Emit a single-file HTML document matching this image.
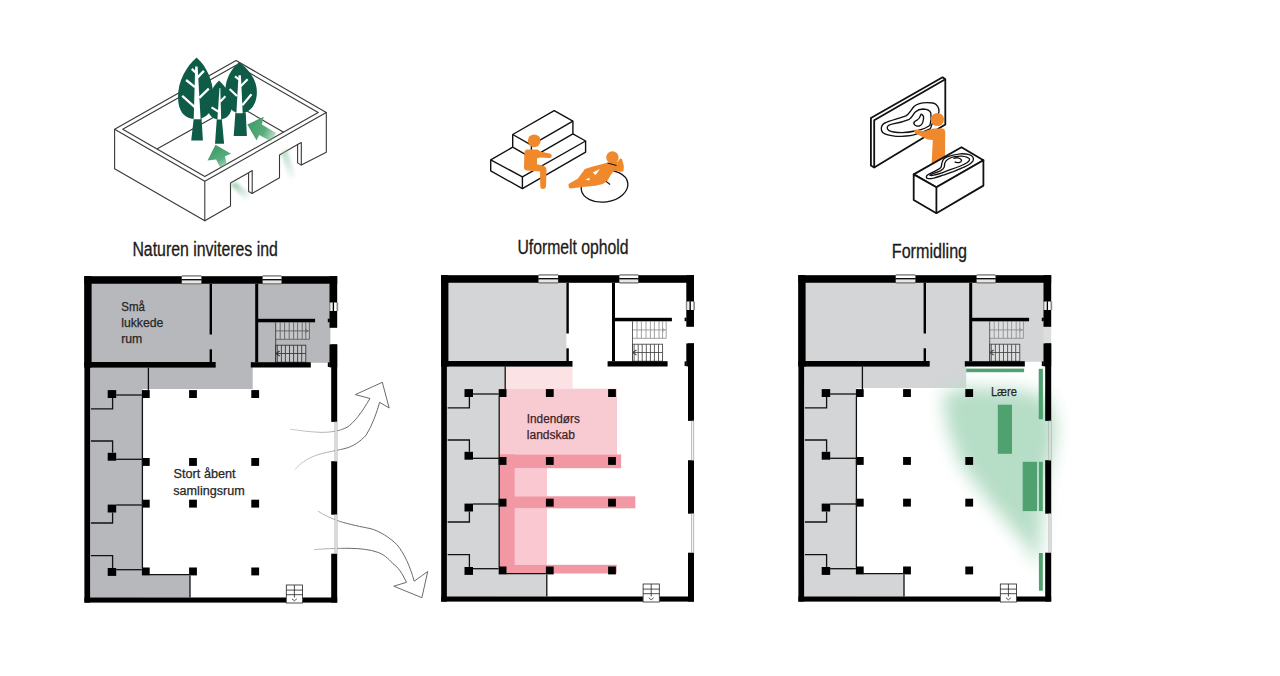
<!DOCTYPE html>
<html><head><meta charset="utf-8"><style>
html,body{margin:0;padding:0;background:#fff;}
body{width:1280px;height:676px;overflow:hidden;}
svg{display:block;font-family:"Liberation Sans",sans-serif;}
</style></head><body>
<svg width="1280" height="676" viewBox="0 0 1280 676">
<defs>
<filter id="blur" x="-50%" y="-50%" width="200%" height="200%"><feGaussianBlur stdDeviation="8.5"/></filter>
<filter id="blur2" x="-50%" y="-50%" width="200%" height="200%"><feGaussianBlur stdDeviation="1.6"/></filter>
<linearGradient id="ag1" gradientUnits="userSpaceOnUse" x1="290" y1="0" x2="345" y2="0"><stop offset="0" stop-color="#c8c8c8"/><stop offset="0.8" stop-color="#a0a0a0"/><stop offset="1" stop-color="#5a5a5a"/></linearGradient>
<linearGradient id="gt1" gradientUnits="userSpaceOnUse" x1="232" y1="183" x2="250" y2="199"><stop offset="0" stop-color="#8cc7a4" stop-opacity="0.85"/><stop offset="1" stop-color="#8cc7a4" stop-opacity="0"/></linearGradient>
<linearGradient id="gt2" gradientUnits="userSpaceOnUse" x1="284" y1="150" x2="293" y2="181"><stop offset="0" stop-color="#8cc7a4" stop-opacity="0.6"/><stop offset="1" stop-color="#8cc7a4" stop-opacity="0"/></linearGradient>
<linearGradient id="ga" gradientUnits="userSpaceOnUse" x1="216" y1="150" x2="226" y2="168"><stop offset="0" stop-color="#45a06c"/><stop offset="0.5" stop-color="#5aad7e"/><stop offset="1" stop-color="#5aad7e" stop-opacity="0.4"/></linearGradient>
<linearGradient id="gb" gradientUnits="userSpaceOnUse" x1="252" y1="126" x2="276" y2="138"><stop offset="0" stop-color="#45a06c"/><stop offset="0.5" stop-color="#5aad7e"/><stop offset="1" stop-color="#5aad7e" stop-opacity="0.3"/></linearGradient>
<g id="pb">
<rect x="0.0" y="0.0" width="7.2" height="91.3" fill="#000" />
<rect x="0.0" y="0.0" width="5.7" height="326.4" fill="#000" />
<rect x="0.0" y="0.0" width="252.8" height="7.6" fill="#000" />
<rect x="245.1" y="0.0" width="7.7" height="51.6" fill="#000" />
<rect x="243.4" y="42.5" width="2.0" height="3.5" fill="#000" />
<rect x="245.1" y="68.2" width="7.7" height="23.0" fill="#000" />
<rect x="243.4" y="86.2" width="2.0" height="4.6" fill="#000" />
<rect x="246.8" y="68.2" width="6.0" height="77.5" fill="#000" />
<rect x="246.8" y="185.0" width="6.0" height="53.5" fill="#000" />
<rect x="246.8" y="277.5" width="6.0" height="48.9" fill="#000" />
<rect x="0.0" y="321.3" width="201.7" height="5.1" fill="#000" />
<rect x="218.3" y="321.3" width="34.5" height="5.1" fill="#000" />
<rect x="250.6" y="145.7" width="2" height="39.3" fill="#fff" stroke="#7a7a7a" stroke-width="0.55"/>
<rect x="250.6" y="238.5" width="2" height="39.0" fill="#fff" stroke="#7a7a7a" stroke-width="0.55"/>
<rect x="97.4" y="-1.1" width="19.5" height="9.6" fill="#8c8c8c" />
<rect x="97.4" y="0.5" width="19.5" height="2.4" fill="#fff" />
<rect x="97.4" y="2.9" width="19.5" height="1.4" fill="#000" />
<rect x="97.4" y="4.3" width="19.5" height="2.5" fill="#e6e6e6" />
<rect x="178.3" y="-1.1" width="18.7" height="9.6" fill="#8c8c8c" />
<rect x="178.3" y="0.5" width="18.7" height="2.4" fill="#fff" />
<rect x="178.3" y="2.9" width="18.7" height="1.4" fill="#000" />
<rect x="178.3" y="4.3" width="18.7" height="2.5" fill="#e6e6e6" />
<rect x="244.6" y="26.4" width="9.2" height="8.4" fill="#8c8c8c" />
<rect x="246.0" y="26.4" width="2.4" height="8.4" fill="#eee" />
<rect x="248.4" y="26.4" width="1.3" height="8.4" fill="#000" />
<rect x="249.7" y="26.4" width="2.4" height="8.4" fill="#fff" />
<rect x="0.0" y="85.8" width="131.3" height="5.6" fill="#000" />
<rect x="125.2" y="7.6" width="2.4" height="50.7" fill="#000" />
<rect x="125.2" y="73.1" width="2.4" height="12.7" fill="#000" />
<rect x="170.8" y="7.6" width="3.0" height="78.4" fill="#000" />
<rect x="173.4" y="42.6" width="57.3" height="3.5" fill="#000" />
<rect x="166.4" y="86.0" width="60.0" height="5.3" fill="#000" />
<rect x="57.5" y="113.9" width="7.8" height="7.9" fill="#000" />
<rect x="57.5" y="181.8" width="7.8" height="7.9" fill="#000" />
<rect x="57.5" y="223.5" width="7.8" height="7.9" fill="#000" />
<rect x="57.5" y="291.3" width="7.8" height="7.9" fill="#000" />
<rect x="104.7" y="113.9" width="7.8" height="7.9" fill="#000" />
<rect x="104.7" y="181.8" width="7.8" height="7.9" fill="#000" />
<rect x="104.7" y="223.5" width="7.8" height="7.9" fill="#000" />
<rect x="104.7" y="291.3" width="7.8" height="7.9" fill="#000" />
<rect x="166.9" y="113.9" width="7.8" height="7.9" fill="#000" />
<rect x="166.9" y="181.8" width="7.8" height="7.9" fill="#000" />
<rect x="166.9" y="223.5" width="7.8" height="7.9" fill="#000" />
<rect x="166.9" y="291.3" width="7.8" height="7.9" fill="#000" />
<rect x="23.3" y="113.9" width="8.5" height="7.9" fill="#000" />
<rect x="23.3" y="176.6" width="8.5" height="7.9" fill="#000" />
<rect x="23.3" y="228.4" width="8.5" height="7.9" fill="#000" />
<rect x="23.3" y="291.8" width="8.5" height="7.9" fill="#000" />
<polyline points="64,91.3 64,113.9" fill="none" stroke="#111" stroke-width="1.3"/>
<polyline points="58,121.6 58,291.8" fill="none" stroke="#111" stroke-width="1.3"/>
<polyline points="31.8,118.8 57.5,118.8" fill="none" stroke="#111" stroke-width="1.3"/>
<polyline points="28.2,121.8 28.2,132.7 6.5,132.7" fill="none" stroke="#111" stroke-width="1.3"/>
<polyline points="6.5,164.8 28.2,164.8 28.2,176.6" fill="none" stroke="#111" stroke-width="1.3"/>
<polyline points="31.8,183.1 57.5,183.1" fill="none" stroke="#111" stroke-width="1.3"/>
<polyline points="31.8,228.8 57.5,228.8" fill="none" stroke="#111" stroke-width="1.3"/>
<polyline points="28.2,236.3 28.2,246.8 6.5,246.8" fill="none" stroke="#111" stroke-width="1.3"/>
<polyline points="6.5,279.4 28.2,279.4 28.2,291.8" fill="none" stroke="#111" stroke-width="1.3"/>
<polyline points="31.8,293.5 57.5,293.5" fill="none" stroke="#111" stroke-width="1.3"/>
<polyline points="64.8,298.4 104.7,298.4" fill="none" stroke="#111" stroke-width="1.3"/>
<polyline points="105.6,299.2 105.6,321.3" fill="none" stroke="#111" stroke-width="1.3"/>
<g fill="#fff" stroke="#222" stroke-width="0.8"><rect x="201.9" y="308.8" width="16.2" height="18"/><line x1="210" y1="308.8" x2="210" y2="321.3"/><line x1="201.9" y1="313.9" x2="218.1" y2="313.9"/><line x1="201.9" y1="318.5" x2="218.1" y2="318.5"/><path d="M207.6,322.6 L210,324.6 L212.4,322.6" fill="none"/></g>
</g>
</defs>
<rect width="1280" height="676" fill="#fff"/>
<!-- plan arrows behind -->
<path d="M290,429.2 C300,430.5 310,432 320,432.3 C330,432.6 340,431 347,427.3 C354,423 362,412 370,398.5 L355.4,394.6 L382.3,382.3 L389.2,408 L379.6,402.3 C377,412 372,426 366.2,435 C360,442 352.7,446.5 345,448.5 C335,451 320,453 312,457 C303,461 298,466 295,469.6" fill="#fff" stroke="url(#ag1)" stroke-width="0.9"/>
<path d="M318,511.2 C324,515 331.5,518.5 340,521.5 C350,524.5 362,527 370,528.5 C380,531 390,538 396.9,544.6 C404,553 410,566 414.2,581.2 L427.7,571.5 L421.9,597.7 L393.8,586.2 L406.5,582.3 C402,573 398,567 393,563.8 C388,558 383,554 377.7,552.3 C370,549.5 360,548.5 350,548.3 C335,548.2 322,549 314.2,549.6" fill="#fff" stroke="url(#ag1)" stroke-width="0.9"/>
<g transform="translate(84.4,276.2)">
<rect x="5.7" y="7.6" width="240.3" height="79.0" fill="#b7b8bc" />
<rect x="5.7" y="80.0" width="162.6" height="32.8" fill="#b7b8bc" />
<rect x="5.7" y="91.3" width="52.3" height="230.0" fill="#b7b8bc" />
<rect x="5.7" y="298.4" width="99.9" height="23.0" fill="#b7b8bc" />
<g fill="#c4c5c7" stroke="#555" stroke-width="0.8">
<rect x="191.3" y="46.2" width="33.7" height="16.9" stroke="none"/>
<path d="M225,46.2 V63.1 H191.3" fill="none"/>
<line x1="195.8" y1="46.2" x2="195.8" y2="63.1"/>
<line x1="200.2" y1="46.2" x2="200.2" y2="63.1"/>
<line x1="204.8" y1="46.2" x2="204.8" y2="63.1"/>
<line x1="209.2" y1="46.2" x2="209.2" y2="63.1"/>
<line x1="213.2" y1="46.2" x2="213.2" y2="63.1"/>
<line x1="217.8" y1="46.2" x2="217.8" y2="63.1"/>
<line x1="221.4" y1="46.2" x2="221.4" y2="63.1"/>
<line x1="191.3" y1="54.7" x2="225" y2="54.7"/>
<path d="M221,52.9 L223.4,54.7 L221,56.5" fill="none"/>
</g>
<g fill="#c4c5c7" stroke="#333" stroke-width="0.85">
<rect x="191.3" y="69" width="30.1" height="17"/>
<line x1="192.9" y1="69" x2="192.9" y2="86"/>
<line x1="197.0" y1="69" x2="197.0" y2="86"/>
<line x1="201.0" y1="69" x2="201.0" y2="86"/>
<line x1="205.1" y1="69" x2="205.1" y2="86"/>
<line x1="209.2" y1="69" x2="209.2" y2="86"/>
<line x1="213.2" y1="69" x2="213.2" y2="86"/>
<line x1="217.3" y1="69" x2="217.3" y2="86"/>
<line x1="191.3" y1="77.3" x2="221.4" y2="77.3"/>
<path d="M195.2,74.8 L191.7,77.3 L195.2,79.8" fill="none" stroke-width="1.1"/>
<line x1="191.3" y1="46.2" x2="191.3" y2="86"/>
</g>
<use href="#pb"/>
</g>
<g transform="translate(441.2,275.2)">
<rect x="5.7" y="7.6" width="119.5" height="78.2" fill="#d3d5d6" />
<rect x="5.7" y="91.3" width="58.3" height="23.2" fill="#d3d5d6" />
<rect x="5.7" y="113.9" width="52.3" height="207.4" fill="#d3d5d6" />
<rect x="5.7" y="298.4" width="100.1" height="23.0" fill="#d3d5d6" />
<rect x="63.8" y="91.3" width="67.6" height="22.2" fill="#fbe2e5" />
<rect x="58.6" y="113.5" width="117.2" height="65.7" fill="#f8cad2" />
<rect x="73.6" y="193.0" width="32.2" height="28.1" fill="#f9c8d1" />
<rect x="73.6" y="233.1" width="32.2" height="56.5" fill="#f9c8d1" />
<rect x="58.6" y="179.2" width="121.3" height="13.8" fill="#f297a4" />
<rect x="58.6" y="221.1" width="135.5" height="12.0" fill="#f297a4" />
<rect x="58.6" y="289.6" width="116.9" height="8.7" fill="#f297a4" />
<rect x="58.6" y="179.2" width="15.0" height="119.1" fill="#f297a4" />
<g fill="#fff" stroke="#8a8a8a" stroke-width="0.8">
<rect x="191.3" y="46.2" width="33.7" height="16.9" stroke="none"/>
<path d="M225,46.2 V63.1 H191.3" fill="none"/>
<line x1="195.8" y1="46.2" x2="195.8" y2="63.1"/>
<line x1="200.2" y1="46.2" x2="200.2" y2="63.1"/>
<line x1="204.8" y1="46.2" x2="204.8" y2="63.1"/>
<line x1="209.2" y1="46.2" x2="209.2" y2="63.1"/>
<line x1="213.2" y1="46.2" x2="213.2" y2="63.1"/>
<line x1="217.8" y1="46.2" x2="217.8" y2="63.1"/>
<line x1="221.4" y1="46.2" x2="221.4" y2="63.1"/>
<line x1="191.3" y1="54.7" x2="225" y2="54.7"/>
<path d="M221,52.9 L223.4,54.7 L221,56.5" fill="none"/>
</g>
<g fill="#fff" stroke="#444" stroke-width="0.85">
<rect x="191.3" y="69" width="30.1" height="17"/>
<line x1="192.9" y1="69" x2="192.9" y2="86"/>
<line x1="197.0" y1="69" x2="197.0" y2="86"/>
<line x1="201.0" y1="69" x2="201.0" y2="86"/>
<line x1="205.1" y1="69" x2="205.1" y2="86"/>
<line x1="209.2" y1="69" x2="209.2" y2="86"/>
<line x1="213.2" y1="69" x2="213.2" y2="86"/>
<line x1="217.3" y1="69" x2="217.3" y2="86"/>
<line x1="191.3" y1="77.3" x2="221.4" y2="77.3"/>
<path d="M195.2,74.8 L191.7,77.3 L195.2,79.8" fill="none" stroke-width="1.1"/>
<line x1="191.3" y1="46.2" x2="191.3" y2="86"/>
</g>
<use href="#pb"/>
</g>
<g transform="translate(798.4,275.2)">
<rect x="5.7" y="7.6" width="240.3" height="79.0" fill="#d3d5d6" />
<rect x="5.7" y="80.0" width="162.1" height="32.8" fill="#d3d5d6" />
<rect x="5.7" y="91.3" width="52.3" height="230.0" fill="#d3d5d6" />
<rect x="5.7" y="298.4" width="100.1" height="23.0" fill="#d3d5d6" />
<rect x="245.0" y="51.0" width="7.8" height="17.5" fill="#dcdddd" />
<polygon points="144,119 167,112 217,114 250,122 258,152 253,183 246,205 240,292 226,267 193,229 163,190 149,152" fill="#b6ddc6" filter="url(#blur)"/>
<g fill="#dcdedf" stroke="#888" stroke-width="0.8">
<rect x="191.3" y="46.2" width="33.7" height="16.9" stroke="none"/>
<path d="M225,46.2 V63.1 H191.3" fill="none"/>
<line x1="195.8" y1="46.2" x2="195.8" y2="63.1"/>
<line x1="200.2" y1="46.2" x2="200.2" y2="63.1"/>
<line x1="204.8" y1="46.2" x2="204.8" y2="63.1"/>
<line x1="209.2" y1="46.2" x2="209.2" y2="63.1"/>
<line x1="213.2" y1="46.2" x2="213.2" y2="63.1"/>
<line x1="217.8" y1="46.2" x2="217.8" y2="63.1"/>
<line x1="221.4" y1="46.2" x2="221.4" y2="63.1"/>
<line x1="191.3" y1="54.7" x2="225" y2="54.7"/>
<path d="M221,52.9 L223.4,54.7 L221,56.5" fill="none"/>
</g>
<g fill="#dcdedf" stroke="#444" stroke-width="0.85">
<rect x="191.3" y="69" width="30.1" height="17"/>
<line x1="192.9" y1="69" x2="192.9" y2="86"/>
<line x1="197.0" y1="69" x2="197.0" y2="86"/>
<line x1="201.0" y1="69" x2="201.0" y2="86"/>
<line x1="205.1" y1="69" x2="205.1" y2="86"/>
<line x1="209.2" y1="69" x2="209.2" y2="86"/>
<line x1="213.2" y1="69" x2="213.2" y2="86"/>
<line x1="217.3" y1="69" x2="217.3" y2="86"/>
<line x1="191.3" y1="77.3" x2="221.4" y2="77.3"/>
<path d="M195.2,74.8 L191.7,77.3 L195.2,79.8" fill="none" stroke-width="1.1"/>
<line x1="191.3" y1="46.2" x2="191.3" y2="86"/>
</g>
<use href="#pb"/>
<rect x="167.8" y="93.4" width="57.9" height="3.6" fill="#4fa270" />
<rect x="240.3" y="93.6" width="4.2" height="50.5" fill="#4fa270" />
<rect x="199.4" y="129.5" width="14.2" height="49.1" fill="#4fa270" />
<rect x="224.3" y="186.6" width="14.4" height="49.3" fill="#4fa270" />
<rect x="240.5" y="186.6" width="3.9" height="49.3" fill="#4fa270" />
<rect x="240.5" y="277.8" width="3.9" height="37.7" fill="#4fa270" />
</g>
<!-- texts in plans -->
<g font-size="12.5" fill="#262626" stroke="#262626" stroke-width="0.25" lengthAdjust="spacingAndGlyphs">
<text x="121.2" y="310.7" textLength="23.7" lengthAdjust="spacingAndGlyphs">Små</text>
<text x="121.2" y="326.5" textLength="42.2" lengthAdjust="spacingAndGlyphs">lukkede</text>
<text x="121.2" y="342.5" textLength="21.1" lengthAdjust="spacingAndGlyphs">rum</text>
<text x="173.6" y="478.2" textLength="62" lengthAdjust="spacingAndGlyphs">Stort åbent</text>
<text x="173.3" y="494.8" textLength="71.4" lengthAdjust="spacingAndGlyphs">samlingsrum</text>
<text x="526.8" y="423.2" fill="#3c2228" stroke="#3c2228" textLength="53" lengthAdjust="spacingAndGlyphs">Indendørs</text>
<text x="526.8" y="438.7" fill="#3c2228" stroke="#3c2228" textLength="48.2" lengthAdjust="spacingAndGlyphs">landskab</text>
<text x="990.9" y="396.2" textLength="26" lengthAdjust="spacingAndGlyphs">Lære</text>
</g>
<!-- captions -->
<g font-size="19.5" fill="#1a1a1a" stroke="#1a1a1a" stroke-width="0.3">
<text x="132.4" y="255.9" textLength="145.4" lengthAdjust="spacingAndGlyphs">Naturen inviteres ind</text>
<text x="517.4" y="254.4" textLength="111.2" lengthAdjust="spacingAndGlyphs">Uformelt ophold</text>
<text x="891.8" y="257.7" textLength="75.3" lengthAdjust="spacingAndGlyphs">Formidling</text>
</g>
<!-- illustration 1 -->
<polygon points="114.6,129.2 236.1,60.5 326.3,112.6 204.8,181.3" fill="none" stroke="#383838" stroke-width="1.1" stroke-linejoin="round"/>
<polygon points="122.7,129.2 236.1,65.2 318.2,112.6 204.8,176.6" fill="none" stroke="#383838" stroke-width="1.1" stroke-linejoin="round"/>
<polyline points="156.9,149.0 236.1,104.7 283.6,132.2" fill="none" stroke="#383838" stroke-width="1.1" stroke-linejoin="round"/>
<polyline points="114.6,129.2 114.6,168.7 204.8,220.8 204.8,181.3" fill="none" stroke="#383838" stroke-width="1.1" stroke-linejoin="round"/>
<polyline points="204.8,220.8 230.5,206.0 230.5,183.1 248.6,172.7 252.2,170.5 252.2,193.4 279.5,177.7 279.5,155.1 297.6,144.6 301.3,142.5 301.3,165.1 326.3,152.2 326.3,112.6" fill="none" stroke="#383838" stroke-width="1.1" stroke-linejoin="round"/>
<polyline points="248.6,172.7 248.6,191.4 252.2,193.4" fill="none" stroke="#383838" stroke-width="1.1" stroke-linejoin="round"/>
<polyline points="297.6,144.6 297.6,162.9 301.3,165.1" fill="none" stroke="#383838" stroke-width="1.1" stroke-linejoin="round"/>
<path d="M215.5,144.8 L207.5,160.4 L216.1,159.4 L220.2,167.6 L226.9,164.5 L224.9,156.2 L231.1,153.7 Z" fill="url(#ga)"/>
<path d="M247.3,124.5 L256.6,140.6 L259.2,134.9 L271,141.5 L276.3,133 L261.8,124.5 L263.8,116.7 Z" fill="url(#gb)"/>
<polygon points="230.5,185 236,182 252,195 246,201" fill="url(#gt1)" filter="url(#blur2)"/>
<polygon points="281,153 287,149 296,177 290,183" fill="url(#gt2)" filter="url(#blur2)"/>
<path d="M219,80.6 C213.5,86 207.4,95 207.4,105.5 C207.4,114 212,119.6 219.3,119.6 C226.5,119.6 231.8,114 231.8,105.5 C231.8,95 225,86 219,80.6Z" fill="#0e5c48"/>
<path d="M196.6,57.6 C186,67 178,81 178,97 C178,112 185,119 195.5,119 C206.5,119 213.2,112 213.2,97 C213.2,81 207,67 196.6,57.6Z" fill="#0e5c48"/>
<path d="M239.2,62 C231,69 225.2,79 225.2,92 C225.2,105 231.5,113.2 240.5,113.2 C249.5,113.2 256.9,105 256.9,92 C256.9,79 248,69 239.2,62Z" fill="#0e5c48"/>
<polygon points="216.8,119 221.8,119 224.1,143.8 215,143.8" fill="#0e5c48"/>
<polygon points="193.8,118 201.5,118 202.9,140.6 191.2,140.6" fill="#0e5c48"/>
<polygon points="235.4,112.5 245.7,112.5 246.9,136 233.7,136" fill="#0e5c48"/>
<polygon points="193.7,119.2 200.6,119.2 197.6,66.5 195.2,66.5" fill="#fff"/>
<path d="M196,72.8 L191.8,68.9 M197.4,77.6 L203.9,70.9 M195,87.2 L186.1,80 M199.3,97.8 L208.8,88.7 M194.8,107.2 L182.2,95.9" stroke="#fff" stroke-linecap="butt" fill="none" stroke-width="2.3"/>
<polygon points="217.4,119.6 221.2,119.6 220.3,88 219.5,88" fill="#fff"/>
<path d="M220.3,101.5 L225.4,96.3 M219,112 L211.5,107.4" stroke="#fff" stroke-linecap="butt" fill="none" stroke-width="2.1"/>
<polygon points="236.4,113.3 242.7,113.3 240.9,75.3 238.5,75.3" fill="#fff"/>
<path d="M239,79.5 L235,76.3 M240.7,86.3 L247.6,79.3 M237,96 L229.6,89 M242.3,105.3 L251.5,94.3" stroke="#fff" stroke-linecap="butt" fill="none" stroke-width="2.2"/>
<!-- illustration 2 -->
<polygon points="490.7,159.9 512.7,147.2 572.9,133.9 585.6,141.0 522.4,176.8" fill="#fff" stroke="none"/>
<polyline points="512.7,147.2 490.7,159.9 522.4,176.8 585.6,141.0 572.9,133.9" fill="none" stroke="#111" stroke-width="1.4" stroke-linejoin="round"/>
<polyline points="490.7,159.9 490.7,170.8 522.4,188.7 585.6,152.1 585.6,141.0" fill="none" stroke="#111" stroke-width="1.4" stroke-linejoin="round"/>
<line x1="522.4" y1="176.8" x2="522.4" y2="188.7" stroke="#111" stroke-width="1.4"/>
<polygon points="512.7,134.5 554.2,110.6 572.9,121.2 572.9,133.9 531.4,157.8 512.7,147.2" fill="#fff" fill="none" stroke="#111" stroke-width="1.4" stroke-linejoin="round"/>
<polyline points="512.7,134.5 531.4,145.1 572.9,121.2" fill="none" stroke="#111" stroke-width="1.4" stroke-linejoin="round"/>
<polyline points="531.4,145.1 531.4,157.8" fill="none" stroke="#111" stroke-width="1.4" stroke-linejoin="round"/>
<circle cx="534.2" cy="140.8" r="6.4" fill="#f0892b"/>
<path d="M527,149.5 L537.5,149.5 Q539,150 540,151.5 L549.5,153.5 Q552.5,154.5 551.5,157 Q550.5,158.3 548.5,158 L540,157.5 L537,158.5 L537,164.3 L543.5,165.8 Q546.5,166.8 546.5,170 L546,186.5 Q545.5,189 543,189 Q540.3,189 540.3,186.5 L540,171.5 L527,170.6 Q524,170.2 524,167.5 L524.4,153 Q524.8,149.7 527,149.5Z" fill="#f0892b"/>
<ellipse cx="604.5" cy="186.2" rx="23.5" ry="15.8" transform="rotate(-8 604.5 186.2)" fill="none" stroke="#111" stroke-width="1.3"/>
<circle cx="612.4" cy="157.4" r="6.2" fill="#f0892b"/>
<path d="M568.4,185.5 Q568.3,183.6 570,183 L577.7,178.7 L583.1,171.6 L584.8,169 L593.7,166.3 L602.6,164.1 L607,162.7 L612,162 L617.5,161.8 L620.3,158.3 L622.1,159.2 L623.9,166.3 L623.4,171.6 L620.3,171.8 L614,170.5 L610.6,175.2 L607,181.4 L602.6,184 L595.5,185.8 L582.2,187.1 L570.6,188.5 Q568.5,188.3 568.4,185.5Z" fill="#f0892b"/>
<path d="M592.8,172.5 L599.9,169 L595.5,175.2 Z" fill="#fff"/>
<path d="M585.3,179.6 L589.7,177.8 L589.3,180.5 Z" fill="#fff"/>
<path d="M606.1,181.4 L610.1,184.5" stroke="#111" stroke-width="1.2"/>
<path d="M607.5,163 L616.5,165.5" stroke="#111" stroke-width="1"/>
<!-- illustration 3 -->
<polygon points="870.9,118 942.6,77.3 945.3,79.3 945.3,124.5 874.2,167.5 870.9,165.5" fill="#fff" stroke="#111" stroke-width="1.8" stroke-linejoin="round"/>
<polyline points="874.2,167.5 874.2,120.2 945.3,79.3" fill="none" stroke="#111" stroke-width="1.8" stroke-linejoin="round"/>
<path d="M881.3,128.2 C881.5,125 883,123.6 886,122.5 C890,120.8 900,118 906.4,115.6 C910,113 911,110 914,106.5 C918,103 924,101.8 933,103 C937,104 939.5,108 938.9,111.9 C938,116 935,120 932,124 C931,127 931,128 930,128.9 C926,131 921.2,132.6 913.8,134.8 C909,136 903.4,136.3 896,136.3 C890.1,135.9 885,134.5 882.7,132.6 C881.6,131.3 881.2,129.8 881.3,128.2Z" fill="none" stroke="#111" stroke-width="1.35" stroke-linejoin="round"/>
<path d="M887.2,127.4 C887.5,125.5 889.4,124.5 893,123.8 C898,123 904,121.5 909.3,119.3 C912.5,117 913.5,113.5 915.3,111.9 C917.5,110 920,109 923,109 C927,109.2 930,110.5 930.8,113 C931.5,117 931,121.5 930,125.2 C927,127.5 924.1,128.9 918,130.4 C913,131.5 909,132.6 902,132.6 C896,132.6 891,131.8 888.7,130.4 C887.6,129.6 887.1,128.5 887.2,127.4Z" fill="none" stroke="#111" stroke-width="1.35" stroke-linejoin="round"/>
<path d="M921.2,114.1 C923,114.8 924,117 923.4,119.5 C923,122.5 921.5,125.5 919.2,126 C917,126.5 914.5,125.5 913.8,123.5 C913.6,121.8 915.2,121 917,120.2 C918.8,119 920,117.5 920.4,115.6 Z" fill="none" stroke="#111" stroke-width="1.35" stroke-linejoin="round"/>
<circle cx="937.4" cy="119.5" r="6.6" fill="#f0892b"/>
<path d="M933.5,128.4 L943,128.6 Q945.2,129.3 945.2,132 L945,162 L931.6,165 L932.8,140 L927.5,139.6 L917.2,134.2 Q913.8,132.8 914.2,130.6 Q915,129 917,129.6 L924,131.2 Z" fill="#f0892b"/>
<polygon points="913.7,174.4 961.5,147.2 983.4,160.2 936.4,187.3" fill="#fff" stroke="#111" stroke-width="1.8" stroke-linejoin="round"/>
<polygon points="913.7,174.4 936.4,187.3 983.4,160.2 983.4,185.6 936.4,213.2 913.7,200" fill="#fff" stroke="#111" stroke-width="1.8" stroke-linejoin="round"/>
<line x1="936.4" y1="187.3" x2="936.4" y2="213.2" stroke="#111" stroke-width="1.8" stroke-linejoin="round"/>
<path d="M926.3,176.9 C926.5,175.6 927,175 928.1,174.6 C930,173.5 933,172.2 935,171.1 C938,169.5 940,168.8 940.8,167.7 C941.8,165.8 941.5,164.5 941.9,163.1 C942.5,160.5 943,159.5 944.2,158.5 C946,157 948.5,156.2 951.1,155.6 C954,154.8 957,154.1 960.4,153.8 C963.5,153.6 966,153.8 968.4,154.4 C970.5,155 972.3,156 973,157.3 C973.6,158.5 973.6,159.8 973,160.8 C972,162.3 971,163.3 969.6,164.2 C967.5,165.5 965,166.6 962.7,167.7 C959.5,169.1 956.5,170.4 953.4,171.7 C950,173 946.5,174.1 943.1,175.2 C940,176.2 937,177.3 933.8,178.1 C931.5,178.6 929.8,178.8 928.1,178.6 C926.8,178.4 926.2,177.8 926.3,176.9Z" fill="none" stroke="#111" stroke-width="1.35" stroke-linejoin="round"/>
<path d="M929.8,175.2 C930.5,174.3 932,173.9 933.8,173.4 C936.5,172.3 939,171.6 940.8,170.6 C942.8,169.4 943.8,168.3 944.2,167.1 C944.7,165.7 944.4,164.5 944.8,163.1 C945.3,161.2 946.5,160 948.3,159 C950,158 952.3,157.1 954.6,156.7 C957,156.3 959.3,156 961.5,156.1 C963.5,156.2 965.5,156.6 967.3,157.3 C968.8,158 969.8,158.8 969.6,159.6 C969.3,160.8 968.5,161.6 967.3,162.5 C965.3,163.8 962.8,165 960.4,166 C957.3,167.3 954.3,168.4 951.1,169.4 C948,170.5 945,171.7 941.9,172.9 C939,173.9 936.3,174.7 933.8,175.2 C932.2,175.5 930.6,175.6 929.8,175.2Z" fill="none" stroke="#111" stroke-width="1.35" stroke-linejoin="round"/>
<path d="M953.4,158.5 C955,157.8 957,157.6 958.1,157.9 C960,158.4 961.3,159.2 961.5,160.2 C961.4,161.5 960.5,162.3 959.2,162.5 C957.5,162.7 955.8,162.5 954.6,161.9" fill="none" stroke="#111" stroke-width="1.35" stroke-linejoin="round"/>
</svg>
</body></html>
